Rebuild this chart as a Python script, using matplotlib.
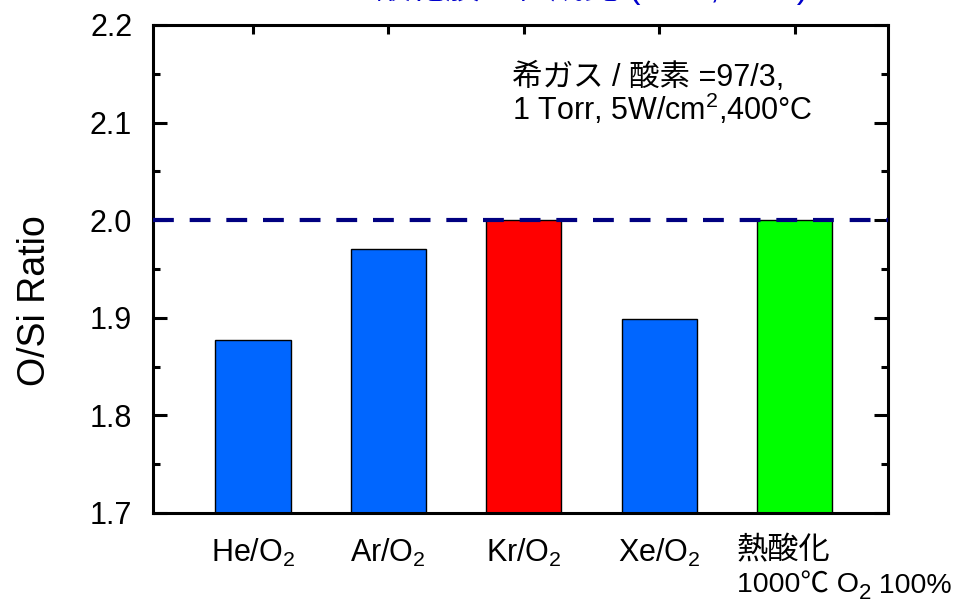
import matplotlib
matplotlib.use("Agg")
import matplotlib.pyplot as plt
from matplotlib.ticker import MultipleLocator, FormatStrFormatter

plt.rcParams['font.family'] = ['Liberation Sans', 'Noto Sans CJK JP', 'DejaVu Sans']
plt.rcParams['mathtext.fontset'] = 'custom'
plt.rcParams['mathtext.rm'] = 'Liberation Sans'
plt.rcParams['mathtext.it'] = 'Liberation Sans:italic'
plt.rcParams['mathtext.bf'] = 'Liberation Sans:bold'

# Data
categories = ["He/O$_2$", "Ar/O$_2$", "Kr/O$_2$", "Xe/O$_2$", "熱酸化"]
thermal_note = ["1000℃ O", "2", " 100%"]
ratios = [1.877, 1.970, 2.000, 1.899, 2.000]
bar_colors = ["#0066FF", "#0066FF", "#FF0000", "#0066FF", "#00FF00"]
stoichiometric = 2.0
conditions = ["希ガス / 酸素 =97/3,", "1 Torr, 5W/cm$^2$,400°C"]
title = "プラズマ酸化膜の組成比 (XPS, 3nm)"

fig = plt.figure(figsize=(9.78, 6.05), dpi=100)
ax = fig.add_axes([153 / 978, 1 - 513 / 605, 735 / 978, 488 / 605])

x = list(range(len(categories)))
ax.bar(x, ratios, width=0.555, color=bar_colors, edgecolor="black",
       linewidth=1.0, zorder=2)
ax.axhline(stoichiometric, color="#000080", lw=3, dashes=(5, 3.8), zorder=3)

ax.set_xlim(-0.739, 4.69)
ax.set_ylim(1.7, 2.2)

ax.yaxis.set_major_locator(MultipleLocator(0.1))
ax.yaxis.set_minor_locator(MultipleLocator(0.05))
ax.yaxis.set_major_formatter(FormatStrFormatter("%.1f"))
ax.tick_params(axis="y", which="both", direction="in", left=True, right=True,
               width=2.2, labelsize=22, pad=15)
ax.tick_params(axis="y", which="major", length=10)
ax.tick_params(axis="y", which="minor", length=5)

ax.set_xticks(x, labels=categories[:4] + [""])
ax.tick_params(axis="x", which="both", direction="in", bottom=False, top=True,
               length=6.5, width=2.2, labelsize=22, pad=17)

for s in ax.spines.values():
    s.set_linewidth(2.2)

ax.set_ylabel("O/Si Ratio", fontsize=27)
ax.yaxis.set_label_coords(-0.136, 0.436)

# label for the thermal oxide reference, left-aligned under its bar
ax.annotate(categories[4], xy=(x[4], 0), xycoords=("data", "axes fraction"),
            xytext=(-58, -46), textcoords="offset pixels",
            ha="left", va="baseline", fontsize=22.5)
n1 = ax.annotate(thermal_note[0], xy=(x[4], 0), xycoords=("data", "axes fraction"),
                 xytext=(-58, -80), textcoords="offset pixels",
                 ha="left", va="baseline", fontsize=20.5)
n2 = ax.annotate(thermal_note[1], xy=(1, 0), xycoords=(n1, "axes fraction"),
                 xytext=(0, -86), textcoords="offset pixels",
                 ha="left", va="baseline", fontsize=16)
ax.annotate(thermal_note[2], xy=(1, 0), xycoords=(n2, "axes fraction"),
            xytext=(0, -80), textcoords="offset pixels",
            ha="left", va="baseline", fontsize=20.5)

# process conditions
ax.text(0.488, 0.875, conditions[0], transform=ax.transAxes,
        ha="left", va="baseline", fontsize=22)
ax.text(0.488, 0.805, conditions[1], transform=ax.transAxes,
        ha="left", va="baseline", fontsize=22)

fig.text(237 / 978, 1 + 2 / 605, title, color="#0000CC", fontsize=25,
         ha="left", va="baseline")

fig.savefig("out.png", dpi=100)
